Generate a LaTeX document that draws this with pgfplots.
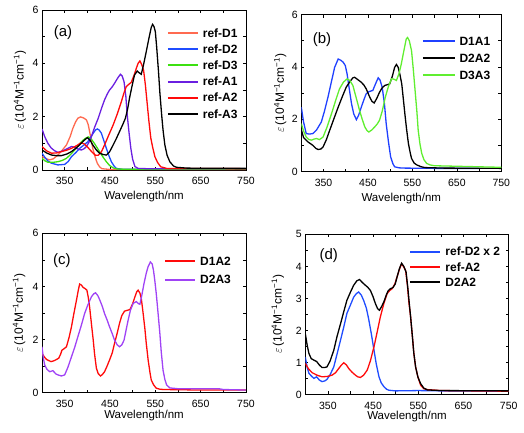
\documentclass[border=0pt]{standalone}
\usepackage{fontspec}
\setmainfont{Liberation Sans}
\usepackage{pgfplots}
\pgfplotsset{compat=1.18}
\definecolor{refDone}{HTML}{FF6A50}
\definecolor{refDtwo}{HTML}{1F4CFF}
\definecolor{refDthree}{HTML}{3CE010}
\definecolor{refAone}{HTML}{6A1FE0}
\definecolor{refAtwo}{HTML}{FF0A0A}
\definecolor{DoneAone}{HTML}{1F40FF}
\definecolor{DthreeAthree}{HTML}{60EE30}
\definecolor{DtwoAthree}{HTML}{A043F5}
\tikzset{panellabel/.style={font=\fontsize{15}{17}\selectfont}}
\pgfplotsset{
  panel/.style={
    scale only axis,
    xmin=300, xmax=750, ymin=0,
    xtick={350,450,...,750},
    minor xtick={300,400,...,700},
    tick align=inside,
    major tick length=3pt, minor tick length=3pt,
    axis line style={line width=0.8pt},
    every tick/.style={black, line width=0.6pt},
    tick label style={font=\fontsize{10.5}{12}\selectfont},
    xticklabel style={yshift=-4pt},
    label style={font=\fontsize{11.5}{13}\selectfont},
    ylabel style={font=\fontsize{12}{14}\selectfont},
    /pgf/number format/assume math mode=true,
    xlabel={Wavelength/nm},
    ylabel={$\varepsilon$\,(10\textsuperscript{4}M\textsuperscript{−1}cm\textsuperscript{−1})},
    legend style={draw=none, fill=none, font=\bfseries\fontsize{12}{14}\selectfont,
      cells={anchor=west}, inner sep=0pt, column sep=4pt,
      nodes={inner sep=0pt, text height=8.6pt, text depth=0pt}},
    every axis plot/.append style={line width=1.3pt, mark=none},
  },
}
\begin{document}
\begin{tikzpicture}
\useasboundingbox (0pt,0pt) rectangle (524pt,-433pt);
% ---------------- (a)
\begin{axis}[panel, at={(42pt,-170pt)}, anchor=south west, width=204pt, height=160pt,
  ymax=6, ytick={0,2,4,6}, minor ytick={1,3,5},
  xlabel style={at={(axis description cs:0.5,-0.167)}, anchor=center},
  ylabel style={at={(axis description cs:-0.108,0.5)}, anchor=center},
  legend style={at={(0.611,0.883)}, anchor=north west, row sep=7.5pt},
  legend image code/.code={\draw[#1, line width=2pt] (0pt,0pt) -- (30pt,0pt);}]
\addplot[color=refDone] coordinates {(300,0.50)(310,0.42)(317,0.38)(325,0.42)(335,0.56)(345,0.75)(354,0.94)(362,1.25)(368,1.56)(374,1.80)(379,1.94)(385,1.99)(392,1.95)(398,1.88)(402,1.70)(405,1.44)(409,1.10)(412,0.81)(417,0.50)(422,0.25)(427,0.12)(432,0.05)(450,0.02)(550,0.02)(750,0.02)};
\addlegendentry{ref-D1}
\addplot[color=refDtwo] coordinates {(300,0.63)(306,0.48)(313,0.34)(320,0.26)(335,0.19)(350,0.21)(358,0.32)(365,0.50)(375,0.66)(383,0.81)(392,0.93)(401,1.06)(407,1.22)(413,1.38)(418,1.50)(422,1.54)(426,1.50)(431,1.38)(436,1.12)(442,0.81)(448,0.52)(453,0.31)(459,0.15)(464,0.06)(475,0.03)(750,0.03)};
\addlegendentry{ref-D2}
\addplot[color=refDthree] coordinates {(300,0.44)(306,0.35)(313,0.29)(325,0.29)(335,0.31)(345,0.36)(354,0.44)(363,0.58)(372,0.75)(380,0.92)(387,1.06)(395,1.18)(402,1.24)(407,1.20)(413,1.06)(420,0.88)(427,0.69)(434,0.50)(442,0.31)(449,0.17)(457,0.08)(465,0.04)(480,0.03)(750,0.03)};
\addlegendentry{ref-D3}
\addplot[color=refAone] coordinates {(300,1.54)(306,1.25)(313,1.00)(320,0.83)(328,0.72)(335,0.66)(343,0.70)(350,0.75)(358,0.82)(365,0.88)(371,0.86)(376,0.81)(382,0.77)(387,0.75)(393,0.80)(398,0.88)(403,1.02)(409,1.25)(416,1.60)(424,1.94)(431,2.30)(438,2.63)(444,2.85)(449,3.00)(455,3.12)(460,3.25)(467,3.45)(473,3.59)(477,3.52)(481,3.31)(485,2.75)(488,2.06)(492,1.40)(496,0.81)(500,0.40)(505,0.13)(512,0.06)(530,0.05)(750,0.05)};
\addlegendentry{ref-A1}
\addplot[color=refAtwo] coordinates {(300,0.88)(310,0.72)(321,0.63)(332,0.64)(343,0.69)(354,0.74)(365,0.81)(377,0.92)(386,1.02)(393,0.98)(401,0.85)(410,0.68)(418,0.55)(424,0.55)(431,0.68)(438,0.94)(447,1.30)(457,1.69)(466,2.10)(475,2.56)(481,2.90)(486,3.13)(492,3.22)(497,3.29)(503,3.55)(508,3.81)(512,4.00)(516,4.09)(520,3.95)(524,3.75)(528,3.20)(532,2.50)(536,1.80)(540,1.20)(544,0.86)(549,0.50)(555,0.28)(562,0.12)(575,0.06)(750,0.05)};
\addlegendentry{ref-A2}
\addplot[color=black] coordinates {(300,0.75)(310,0.64)(321,0.56)(332,0.54)(343,0.54)(355,0.60)(365,0.69)(375,0.82)(383,0.94)(392,1.10)(400,1.21)(406,1.12)(412,0.94)(420,0.75)(427,0.63)(435,0.58)(442,0.56)(449,0.68)(457,0.94)(464,1.18)(471,1.44)(478,1.70)(484,1.94)(489,2.30)(493,2.69)(498,3.10)(504,3.56)(510,3.71)(514,3.65)(519,3.59)(524,3.95)(530,4.44)(536,4.95)(541,5.35)(544,5.46)(547,5.38)(550,5.19)(553,4.60)(557,3.69)(560,2.90)(564,2.06)(567,1.50)(571,0.94)(576,0.55)(582,0.31)(590,0.15)(597,0.10)(620,0.07)(750,0.06)};
\addlegendentry{ref-A3}
\node[panellabel] at (rel axis cs:0.103,0.856) {(a)};
\end{axis}
% ---------------- (b)
\begin{axis}[panel, at={(301.3pt,-171.5pt)}, anchor=south west, width=200pt, height=157pt,
  ymax=6, ytick={0,2,4,6}, minor ytick={1,3,5},
  xlabel style={at={(axis description cs:0.5,-0.171)}, anchor=center},
  ylabel style={at={(axis description cs:-0.105,0.5)}, anchor=center},
  legend style={at={(0.602,0.861)}, anchor=north west, row sep=8.6pt},
  legend image code/.code={\draw[#1, line width=2pt] (0pt,0pt) -- (31.6pt,0pt);}]
\addplot[color=DoneAone] coordinates {(300,2.46)(305,1.90)(311,1.45)(318,1.43)(326,1.45)(334,1.58)(340,1.75)(345,1.89)(352,2.30)(360,2.84)(368,3.45)(375,3.98)(383,4.30)(389,4.25)(394,4.18)(399,4.05)(403,3.73)(408,3.15)(413,2.59)(418,2.20)(424,1.98)(429,2.15)(435,2.46)(441,2.75)(446,2.97)(452,3.05)(461,3.10)(467,3.35)(473,3.58)(477,3.50)(482,3.22)(487,2.60)(491,1.83)(496,1.15)(501,0.56)(506,0.30)(510,0.18)(520,0.14)(533,0.13)(600,0.12)(700,0.12)};
\addlegendentry{D1A1}
\addplot[color=black] coordinates {(300,1.60)(305,1.30)(315,1.13)(326,1.00)(333,0.88)(338,0.84)(344,0.86)(349,0.94)(356,1.20)(364,1.58)(373,2.00)(383,2.46)(392,2.85)(401,3.22)(410,3.45)(416,3.58)(420,3.60)(428,3.50)(435,3.41)(441,3.30)(446,3.16)(450,3.00)(454,2.84)(459,2.68)(464,2.62)(470,2.80)(476,3.03)(482,3.20)(488,3.29)(494,3.32)(499,3.35)(505,3.65)(510,3.98)(514,4.09)(518,3.98)(522,3.70)(526,3.35)(530,2.70)(533,2.21)(537,1.60)(541,1.07)(545,0.72)(548,0.50)(554,0.32)(560,0.25)(570,0.18)(578,0.15)(620,0.13)(750,0.12)};
\addlegendentry{D2A2}
\addplot[color=DthreeAthree] coordinates {(300,1.83)(305,1.55)(311,1.32)(317,1.22)(323,1.20)(329,1.24)(334,1.26)(341,1.22)(349,1.32)(358,1.70)(368,2.21)(377,2.70)(386,3.16)(395,3.42)(403,3.54)(409,3.48)(416,3.29)(423,2.85)(431,2.34)(437,2.00)(443,1.70)(448,1.56)(452,1.51)(458,1.58)(465,1.70)(471,1.82)(476,1.96)(482,2.30)(489,2.84)(496,3.25)(503,3.54)(508,3.53)(514,3.48)(520,3.75)(525,4.11)(530,4.55)(536,5.06)(539,5.12)(543,5.00)(548,4.62)(552,3.90)(556,3.10)(560,2.30)(563,1.58)(567,1.05)(571,0.69)(576,0.45)(582,0.31)(590,0.25)(600,0.22)(650,0.20)(700,0.18)(750,0.16)};
\addlegendentry{D3A3}
\node[panellabel] at (rel axis cs:0.1035,0.838) {(b)};
\end{axis}
% ---------------- (c)
\begin{axis}[panel, at={(42pt,-392.7pt)}, anchor=south west, width=204pt, height=159.4pt,
  ymax=6, ytick={0,2,4,6}, minor ytick={1,3,5},
  xlabel style={at={(axis description cs:0.5,-0.146)}, anchor=center},
  ylabel style={at={(axis description cs:-0.112,0.5)}, anchor=center},
  legend style={at={(0.598,0.853)}, anchor=north west, row sep=9.7pt},
  legend image code/.code={\draw[#1, line width=2pt] (0pt,0pt) -- (30pt,0pt);}]
\addplot[color=refAtwo] coordinates {(300,1.48)(305,1.35)(310,1.25)(320,1.17)(326,1.20)(332,1.25)(337,1.30)(341,1.45)(344,1.60)(349,1.66)(354,1.73)(360,2.10)(365,2.48)(370,2.95)(376,3.48)(380,3.85)(383,4.09)(387,4.05)(391,3.96)(395,3.92)(399,3.86)(402,3.60)(405,3.23)(409,2.60)(413,1.98)(416,1.45)(420,0.92)(424,0.72)(429,0.63)(433,0.68)(438,0.79)(443,0.98)(449,1.23)(455,1.50)(460,1.86)(466,2.25)(471,2.61)(476,2.90)(482,3.07)(488,3.10)(494,3.13)(500,3.35)(505,3.61)(509,3.80)(512,3.86)(516,3.75)(519,3.55)(523,3.00)(527,2.40)(530,1.86)(534,1.25)(538,0.78)(541,0.48)(546,0.30)(552,0.17)(560,0.13)(570,0.12)(650,0.10)(750,0.10)};
\addlegendentry{D1A2}
\addplot[color=DtwoAthree] coordinates {(300,1.73)(303,1.30)(306,1.04)(311,0.88)(317,0.79)(324,0.83)(331,0.70)(337,0.66)(343,0.63)(350,0.67)(357,0.95)(365,1.35)(372,1.70)(379,2.10)(387,2.55)(394,2.98)(401,3.30)(409,3.61)(414,3.72)(418,3.76)(423,3.66)(427,3.51)(433,3.25)(438,2.98)(444,2.72)(449,2.48)(455,2.22)(460,1.98)(466,1.80)(471,1.73)(476,1.80)(481,1.98)(486,2.40)(490,2.73)(495,3.10)(501,3.36)(508,3.43)(513,3.35)(516,3.33)(520,3.65)(525,4.11)(530,4.50)(534,4.74)(539,4.92)(543,4.85)(546,4.60)(549,4.20)(552,3.74)(556,3.00)(560,2.23)(563,1.55)(567,0.85)(571,0.50)(575,0.29)(582,0.18)(600,0.15)(690,0.15)(700,0.12)(750,0.10)};
\addlegendentry{D2A3}
\node[panellabel] at (rel axis cs:0.097,0.826) {(c)};
\end{axis}
% ---------------- (d)
\begin{axis}[panel, at={(305.3pt,-394.4pt)}, anchor=south west, width=203.4pt, height=160pt,
  ymax=5, ytick={0,1,...,5}, minor ytick={0.5,1.5,...,4.5},
  xlabel style={at={(axis description cs:0.5,-0.138)}, anchor=center},
  ylabel style={at={(axis description cs:-0.135,0.5)}, anchor=center},
  legend style={at={(0.511,0.921)}, anchor=north west, row sep=6.7pt},
  legend image code/.code={\draw[#1, line width=2pt] (0pt,0pt) -- (30pt,0pt);}]
\addplot[color=refDtwo] coordinates {(300,1.17)(304,0.85)(308,0.66)(313,0.58)(319,0.50)(325,0.55)(331,0.45)(337,0.40)(343,0.42)(348,0.47)(355,0.62)(363,0.86)(370,1.25)(378,1.70)(385,2.10)(392,2.53)(400,2.80)(407,3.04)(413,3.15)(418,3.20)(424,3.10)(429,2.94)(435,2.70)(440,2.37)(446,1.90)(452,1.38)(457,0.95)(463,0.55)(468,0.36)(474,0.24)(480,0.16)(485,0.13)(500,0.11)(550,0.12)(600,0.11)(750,0.10)};
\addlegendentry{ref-D2 x 2}
\addplot[color=refAtwo] coordinates {(300,0.97)(307,0.80)(315,0.68)(326,0.60)(337,0.55)(348,0.56)(359,0.60)(367,0.68)(374,0.81)(380,0.92)(385,0.99)(391,0.92)(396,0.81)(403,0.70)(411,0.60)(416,0.55)(422,0.53)(429,0.60)(437,0.76)(444,1.05)(452,1.49)(459,1.95)(466,2.42)(474,2.85)(481,3.15)(487,3.25)(492,3.30)(498,3.45)(503,3.67)(508,3.90)(513,4.08)(517,4.00)(522,3.87)(526,3.40)(529,2.90)(533,2.42)(537,1.80)(540,1.30)(544,0.86)(549,0.55)(555,0.29)(562,0.18)(570,0.15)(600,0.12)(750,0.10)};
\addlegendentry{ref-A2}
\addplot[color=black] coordinates {(300,1.90)(304,1.55)(308,1.28)(313,1.12)(319,1.07)(325,1.03)(331,0.92)(337,0.84)(343,0.84)(348,0.86)(355,1.05)(363,1.38)(370,1.80)(378,2.21)(385,2.58)(392,2.94)(400,3.20)(407,3.41)(414,3.55)(420,3.59)(426,3.50)(433,3.41)(438,3.35)(444,3.25)(450,3.05)(455,2.84)(460,2.68)(464,2.63)(469,2.75)(474,2.90)(479,3.10)(483,3.23)(488,3.30)(494,3.34)(499,3.45)(503,3.67)(508,3.92)(513,4.10)(518,4.00)(523,3.82)(527,3.30)(530,2.85)(533,2.42)(537,1.80)(540,1.30)(544,0.86)(549,0.55)(555,0.34)(562,0.20)(570,0.14)(600,0.12)(750,0.11)};
\addlegendentry{D2A2}
\node[panellabel] at (rel axis cs:0.115,0.865) {(d)};
\end{axis}
\end{tikzpicture}
\end{document}
